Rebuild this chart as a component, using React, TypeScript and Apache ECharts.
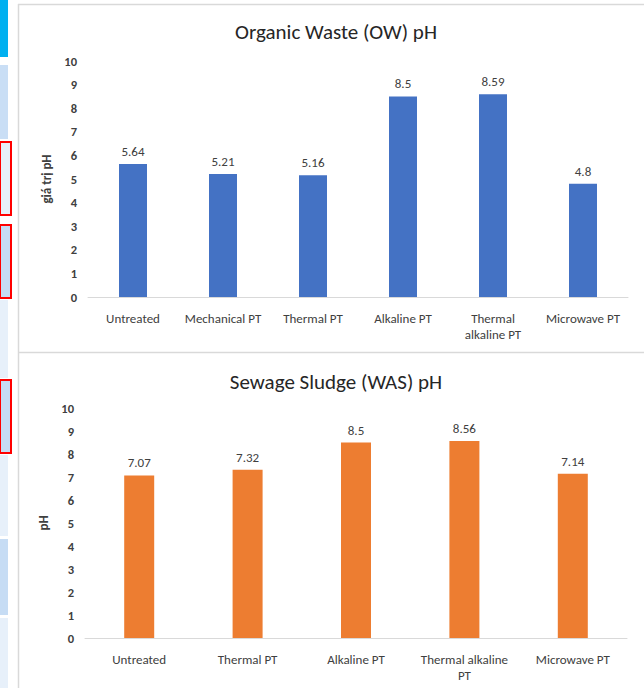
import React, { useEffect, useRef } from "react";
import * as echarts from "echarts";

// Organic waste pH by pretreatment
const owCategories = ["Untreated", "Mechanical PT", "Thermal PT", "Alkaline PT", "Thermal\nalkaline PT", "Microwave PT"];
const owValues = [5.64, 5.21, 5.16, 8.5, 8.59, 4.8];

// Sewage sludge pH by pretreatment
const wasCategories = ["Untreated", "Thermal PT", "Alkaline PT", "Thermal alkaline\nPT", "Microwave PT"];
const wasValues = [7.07, 7.32, 8.5, 8.56, 7.14];

const FONT = "Carlito, Lato, 'Open Sans', sans-serif";
const LABEL = "#404040";
const LINE = "#d9d9d9";

// Side panel strip on the left edge
const strip = [
  { y: 0, h: 57, fill: "#00b0f0", red: false },
  { y: 65, h: 74, fill: "#c9def5", red: false },
  { y: 142, h: 73, fill: "#e7f0fa", red: true },
  { y: 225, h: 73, fill: "#c6dcf4", red: true },
  { y: 300, h: 78, fill: "#e7f0fa", red: false },
  { y: 380, h: 73, fill: "#c6dcf4", red: true },
  { y: 455, h: 81, fill: "#e7f0fa", red: false },
  { y: 539, h: 76, fill: "#c6dcf4", red: false },
  { y: 618, h: 70, fill: "#e7f0fa", red: false },
];

export default function App() {
  const ref = useRef<HTMLDivElement>(null);

  useEffect(() => {
    if (!ref.current) return;
    const chart = echarts.init(ref.current, undefined, { renderer: "svg" });

    const stripShapes: any[] = [];
    strip.forEach((s) => {
      stripShapes.push({
        type: "rect",
        shape: { x: 0, y: s.y, width: s.red ? 11 : 8, height: s.h },
        style: s.red
          ? { fill: s.fill, stroke: "#ff0000", lineWidth: 2 }
          : { fill: s.fill },
        silent: true,
      });
    });

    const xAxisBase = (data: string[], idx: number) => ({
      type: "category",
      gridIndex: idx,
      data,
      axisLine: { lineStyle: { color: LINE, width: 1 } },
      axisTick: { show: false },
      axisLabel: { color: LABEL, fontSize: 13, fontFamily: FONT, margin: 13, lineHeight: 16, interval: 0 },
    });

    const yAxisBase = (idx: number, name: string) => ({
      type: "value",
      gridIndex: idx,
      min: 0,
      max: 10,
      interval: 1,
      name,
      nameLocation: "middle",
      nameGap: 33,
      nameTextStyle: { color: LABEL, fontSize: 13, fontFamily: FONT, fontWeight: "bold" },
      axisLine: { show: false },
      axisTick: { show: false },
      splitLine: { show: false },
      axisLabel: { color: LABEL, fontSize: 12.5, fontFamily: FONT, fontWeight: "bold", margin: 11 },
    });

    const barLabel = {
      show: true,
      position: "top",
      distance: 6,
      color: LABEL,
      fontSize: 13,
      fontFamily: FONT,
    };

    const titleStyle = { color: "#262626", fontSize: 21, fontWeight: "normal", fontFamily: FONT };

    chart.setOption({
      animation: false,
      backgroundColor: "#ffffff",
      title: [
        { text: "Organic Waste (OW) pH", left: 331, top: 16, textAlign: "center", textStyle: titleStyle },
        { text: "Sewage Sludge (WAS) pH", left: 331, top: 366, textAlign: "center", textStyle: titleStyle },
      ],
      grid: [
        { left: 88, right: 16, top: 61, height: 236 },
        { left: 85, right: 17, top: 408, height: 230 },
      ],
      xAxis: [xAxisBase(owCategories, 0), xAxisBase(wasCategories, 1)],
      yAxis: [yAxisBase(0, "giá trị pH"), yAxisBase(1, "pH")],
      series: [
        {
          type: "bar",
          xAxisIndex: 0,
          yAxisIndex: 0,
          data: owValues,
          barWidth: 28,
          itemStyle: { color: "#4472c4" },
          label: barLabel,
        },
        {
          type: "bar",
          xAxisIndex: 1,
          yAxisIndex: 1,
          data: wasValues,
          barWidth: 30,
          itemStyle: { color: "#ed7d31" },
          label: barLabel,
        },
      ],
      graphic: [
        ...stripShapes,
        { type: "line", shape: { x1: 18.5, y1: 4, x2: 18.5, y2: 688 }, style: { stroke: LINE, lineWidth: 1.5 }, silent: true },
        { type: "line", shape: { x1: 18, y1: 4.5, x2: 644, y2: 4.5 }, style: { stroke: LINE, lineWidth: 1.5 }, silent: true },
        { type: "line", shape: { x1: 18, y1: 352.5, x2: 644, y2: 352.5 }, style: { stroke: LINE, lineWidth: 1.5 }, silent: true },
      ],
    });

    return () => chart.dispose();
  }, []);

  return (
    <div
      ref={ref}
      style={{ position: "fixed", left: 0, top: 0, width: 644, height: 688, background: "#fff" }}
    />
  );
}
